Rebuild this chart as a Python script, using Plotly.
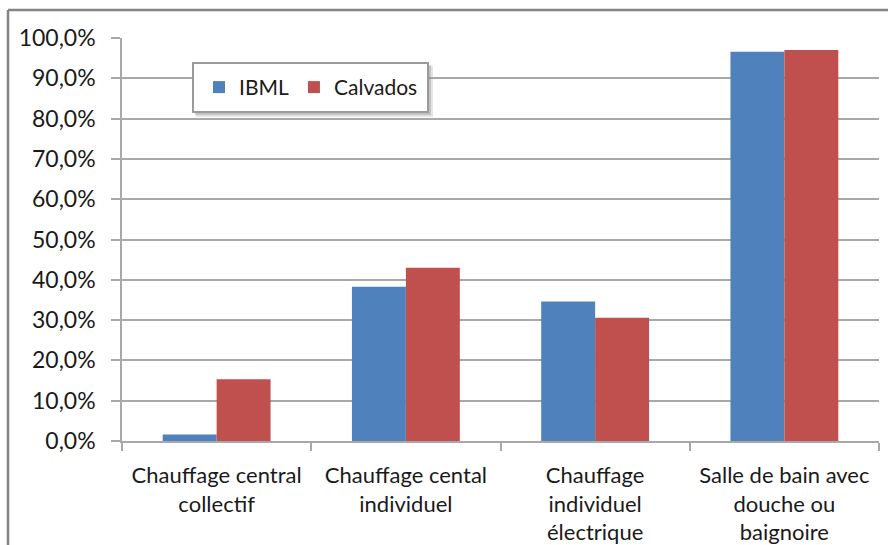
import plotly.graph_objects as go

categories = [
    "Chauffage central<br>collectif",
    "Chauffage cental<br>individuel",
    "Chauffage<br>individuel<br>électrique",
    "Salle de bain avec<br>douche ou<br>baignoire",
]
ibml = [0.016, 0.383, 0.346, 0.966]
calvados = [0.153, 0.430, 0.306, 0.970]
series_names = ["IBML", "Calvados"]
y_ticks = [i / 10 for i in range(11)]

BLUE = "#4F81BD"
RED = "#C0504D"
GRID = "#a8a8a8"
FONT = "Lato"
TXT = "#1a1a1a"

W, H = 888, 545
ML, MR, MT, MB = 122, 9, 38, 103.5
pw = W - ML - MR
ph = H - MT - MB

fig = go.Figure()
fig.add_bar(x=categories, y=ibml, name=series_names[0], marker=dict(color=BLUE, line=dict(width=0)))
fig.add_bar(x=categories, y=calvados, name=series_names[1], marker=dict(color=RED, line=dict(width=0)))


def px_x(x):
    return (x - ML) / pw


def px_y(y):
    return (H - MB - y) / ph


shapes = [
    # outer frame: top and left edges
    dict(type="line", xref="paper", yref="paper", x0=px_x(8), x1=px_x(890), y0=px_y(10), y1=px_y(10),
         line=dict(color="#858585", width=2.5)),
    dict(type="line", xref="paper", yref="paper", x0=px_x(8), x1=px_x(8), y0=px_y(10), y1=px_y(550),
         line=dict(color="#858585", width=2.5)),
    # legend drop shadow (soft, two layers)
    dict(type="rect", xref="paper", yref="paper", x0=px_x(196), x1=px_x(433), y0=px_y(66), y1=px_y(117),
         fillcolor="rgba(150,150,150,0.25)", line=dict(width=0), layer="above"),
    dict(type="rect", xref="paper", yref="paper", x0=px_x(195), x1=px_x(431), y0=px_y(65), y1=px_y(115),
         fillcolor="rgba(130,130,130,0.35)", line=dict(width=0), layer="above"),
    # legend box
    dict(type="rect", xref="paper", yref="paper", x0=px_x(193), x1=px_x(428), y0=px_y(63), y1=px_y(112),
         fillcolor="white", line=dict(color="#9a9a9a", width=2), layer="above"),
]

fig.update_layout(
    width=W, height=H,
    margin=dict(l=ML, r=MR, t=MT, b=MB, pad=0, autoexpand=False),
    paper_bgcolor="white", plot_bgcolor="white",
    barmode="group", bargap=0.43, bargroupgap=0,
    separators=", ",
    font=dict(family=FONT, size=20, color=TXT),
    showlegend=True,
    legend=dict(
        orientation="h", x=px_x(199), y=px_y(87.5), xanchor="left", yanchor="middle",
        bgcolor="rgba(0,0,0,0)", borderwidth=0,
        font=dict(family=FONT, size=21, color=TXT),
        traceorder="normal",
    ),
    shapes=shapes,
    xaxis=dict(
        type="category", tickson="boundaries", ticks="outside", ticklen=8, tickcolor=GRID,
        tickwidth=1.5, showline=True, linecolor=GRID, linewidth=1.5, showgrid=False,
        ticklabelstandoff=14, automargin=False,
        tickfont=dict(family=FONT, size=22, color=TXT),
    ),
    yaxis=dict(
        range=[0, 1], tickvals=y_ticks, tickformat=".1%",
        ticks="outside", ticklen=9, tickcolor=GRID, tickwidth=1.5,
        showline=True, linecolor=GRID, linewidth=1.5,
        showgrid=True, gridcolor=GRID, gridwidth=1.5, zeroline=False,
        ticklabelstandoff=11, automargin=False,
        tickfont=dict(family=FONT, size=23, color=TXT),
    ),
)

fig.write_html("out.html")
